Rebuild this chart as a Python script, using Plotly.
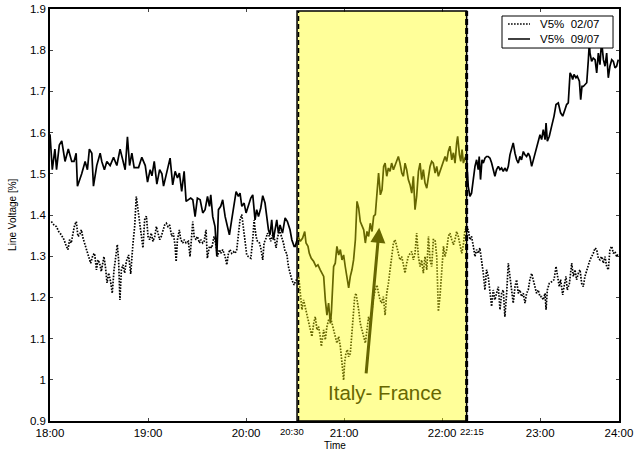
import plotly.graph_objects as go

# time in minutes after 18:00, values in %
t_sep = [0, 1.4, 3, 4, 5.7, 7.2, 9.2, 11.2, 13.3, 14.7, 16, 16.8, 19.4, 21.5, 22.9, 24.1, 25.6, 26.6, 28.6, 30.7,
         31.7, 33.3, 34.8, 36.8, 38.9, 40.9, 42.9, 44.6, 46, 47.4, 48.7, 50.1, 51.5, 54.2, 56.2, 58.3, 59.7, 61.3,
         62.4, 63.8, 65.4, 67.1, 68.5, 69.5, 71.6,
         73.5, 75.1, 76.6, 78.0, 79.2, 80.6, 82.1, 83.3, 84.7, 86.1, 87.4, 88.8, 90.2, 91.9, 93.5, 94.9, 96.4, 97.6,
         98.4, 99.6, 101.0, 102.1, 103.1, 104.5, 105.7, 107.2, 108.6, 109.8, 111.2, 112.7, 113.9, 115.3, 116.3,
         117.4, 118.8, 120.0, 121.4, 122.9, 124.1, 125.5, 126.5, 127.6, 129.0, 130.2, 131.6, 132.7, 133.7, 134.7,
         135.7, 136.7, 137.8, 138.8, 139.8, 140.8, 142.3, 143.9, 145.3, 146.9, 148.0, 149.4,
         150.1, 151.8, 153.2, 154.6, 155.9, 156.7, 157.9, 158.7, 159.9, 161.4, 162.8, 164, 165.4, 166.5, 167.5,
         168.5, 169.5, 170.5, 171.6, 172.2, 173, 173.6, 174.6, 175.6, 176.7, 177.7, 178.7, 179.7, 180.7, 181.8,
         182.8, 183.8, 184.8, 185.8, 186.9, 187.9, 188.9, 189.9, 190.9, 192, 193, 194, 195, 196, 197.1, 198.1,
         199.1, 200.1, 201.1, 202.2, 203.2, 204.2,
         205.1, 206.1, 207.1, 208.1, 209.1, 210.2, 211.2, 212.2, 213.2, 214.2, 215.3, 216.3, 217.3, 218.3, 219.3,
         220.4, 221.4, 222.4, 223.4, 224.4, 225.5, 226.5, 227.5, 228.5, 229.5, 230.6, 231.6, 232.6, 233.6, 234.6,
         235.7, 236.7, 237.7, 238.7, 239.7, 240.8, 241.8, 242.8, 243.8, 244.8, 245.9, 246.9, 247.9, 248.9, 249.5,
         250.6, 251.4, 252.2, 253, 254,
         255, 256, 257, 258, 259.1, 260.1, 261.1, 262.1, 262.7, 263.5, 264.4, 265.2, 266.2, 267.2, 268.2, 269.3,
         270.3, 271.3, 272.3, 273.3, 274.4, 275.4, 276.4, 277.4, 278.4, 279.5, 280.5, 281.5, 282.5, 283.5, 284.6,
         285.6, 286.6, 287.6, 288.6, 289.7, 290.7, 291.7, 292.7, 293.7, 294.8, 295.8, 296.8, 297.8, 298.8, 299.9,
         300.9, 301.9,
         303, 303.6, 304.4, 305.6, 307, 308.5, 309.7, 311.1, 312.5, 313.8, 315.2, 316.2, 317.2, 318.3, 319.3,
         319.9, 320.7, 321.9, 322.7, 324, 324.8, 325.6, 326.4, 327.4, 328.5, 329.5, 330.1, 330.5, 331.5, 332.5,
         333.6, 334.6, 335.6, 336.6, 337.6, 338.7, 339.7, 340.7, 341.7, 342.7, 343.8, 344.8, 345.8, 346.8, 347.8]
v_sep = [1.596, 1.51, 1.56, 1.51, 1.57, 1.58, 1.53, 1.56, 1.53, 1.53, 1.55, 1.47, 1.50, 1.53, 1.51, 1.56, 1.55, 1.47,
         1.52, 1.55, 1.53, 1.51, 1.53, 1.52, 1.54, 1.52, 1.56, 1.53, 1.51, 1.59, 1.52, 1.55, 1.515, 1.515, 1.54,
         1.52, 1.48, 1.51, 1.495, 1.53, 1.475, 1.51, 1.50, 1.47, 1.51,
         1.538, 1.473, 1.506, 1.49, 1.502, 1.457, 1.506, 1.433, 1.437, 1.441, 1.437, 1.396, 1.441, 1.437, 1.405,
         1.413, 1.445, 1.421, 1.449, 1.396, 1.372, 1.30, 1.413, 1.421, 1.437, 1.396, 1.372, 1.352, 1.388, 1.429,
         1.457, 1.445, 1.453, 1.421, 1.429, 1.405, 1.421, 1.441, 1.449, 1.388, 1.413, 1.396, 1.417, 1.447, 1.429,
         1.396, 1.364, 1.352, 1.388, 1.340, 1.372, 1.388, 1.356, 1.376, 1.356, 1.393, 1.384, 1.364, 1.340, 1.324,
         1.324, 1.348, 1.336, 1.344, 1.360, 1.332, 1.324, 1.307, 1.295, 1.287, 1.275, 1.279, 1.267, 1.259, 1.251,
         1.194, 1.157, 1.186, 1.137, 1.162, 1.218, 1.275, 1.283, 1.324, 1.303, 1.316, 1.291, 1.303, 1.275, 1.251,
         1.223, 1.251, 1.267, 1.291, 1.340, 1.433, 1.417, 1.384, 1.376, 1.364, 1.332, 1.360, 1.348, 1.380, 1.360,
         1.397, 1.401, 1.445, 1.502, 1.449, 1.461, 1.518,
         1.526, 1.494, 1.514, 1.506, 1.526, 1.510, 1.522, 1.530, 1.542, 1.526, 1.502, 1.494, 1.526, 1.510, 1.486,
         1.473, 1.453, 1.494, 1.413, 1.445, 1.506, 1.526, 1.486, 1.510, 1.478, 1.465, 1.494, 1.518, 1.530, 1.526,
         1.502, 1.518, 1.494, 1.506, 1.518, 1.534, 1.542, 1.530, 1.555, 1.567, 1.534, 1.551, 1.526, 1.575, 1.591,
         1.546, 1.530, 1.559, 1.526, 1.538,
         1.534, 1.469, 1.445, 1.453, 1.494, 1.518, 1.534, 1.510, 1.542, 1.486, 1.534, 1.526, 1.538, 1.542, 1.542,
         1.538, 1.526, 1.510, 1.494, 1.510, 1.518, 1.510, 1.514, 1.506, 1.514, 1.506, 1.518, 1.546, 1.559, 1.575,
         1.550, 1.534, 1.526, 1.542, 1.534, 1.554, 1.546, 1.542, 1.550, 1.542, 1.518, 1.534, 1.546, 1.567, 1.583,
         1.595, 1.583, 1.607,
         1.583, 1.623, 1.579, 1.591, 1.615, 1.640, 1.668, 1.672, 1.648, 1.640, 1.656, 1.668, 1.672, 1.745, 1.737,
         1.729, 1.741, 1.733, 1.737, 1.725, 1.680, 1.712, 1.712, 1.717, 1.721, 1.777, 1.818, 1.793, 1.773, 1.781,
         1.777, 1.745, 1.793, 1.765, 1.822, 1.777, 1.761, 1.793, 1.733, 1.761, 1.777, 1.773, 1.757, 1.761, 1.777]

t_jul = [0.8, 2.4, 3.9, 5.3, 6.9, 8.6, 10, 11, 12, 13, 14.1, 15.1, 16.1, 17.1, 18.2, 19.2, 20.2, 21.6, 22.9, 23.7,
         24.9, 26.3, 27.3, 28.4, 29.4, 30.4, 31.4, 33.0, 33.9, 34.9, 35.9, 37.1, 38.1, 39.2, 40.2, 41.2, 42.0,
         42.8, 43.7, 44.7, 45.7, 46.7, 48.1, 49.4, 50.8, 51.8, 52.8, 53.9, 54.9, 55.9, 56.9, 57.9, 59, 60, 61, 62,
         63, 64.1, 65.1, 66.1, 67.1, 68.1, 69.2, 70.2, 71.2, 72.2, 73.2,
         74.5, 75.5, 76.6, 77.2, 78, 79.2, 80, 81.3, 82.1, 83.3, 84.7, 85.7, 86.8, 87.4, 88.2, 89.4, 90.2, 91.5,
         92.3, 93.5, 94.3, 95.5, 96.3, 97.6, 99, 100.4, 101.7, 102.5, 103.7, 104.5, 105.7, 107.2, 108.2, 109.2,
         110.2, 111.2, 112.3, 113.3, 114.3, 115.3, 116.3, 117.4, 118.4, 119.4, 120.4, 121.4, 122.9, 124.1, 124.9,
         126.1, 127, 128.2, 129, 130.2, 131, 132.3, 133.1, 134.3, 135.1, 136.3, 137.1, 138.4, 139.2, 140.4, 141.8,
         142.9, 143.9, 144.9, 145.9, 147, 148, 149.4,
         150.1, 152.2, 153.2, 154.2, 155.2, 156.3, 157.3, 158.3, 159.3, 160.3, 161.4, 162.4, 163.4, 164.4, 165.4,
         166.1, 166.9, 167.5, 168.5, 169.5, 170.5, 171.6, 172.6, 173.6, 174.6, 175.6, 176.7, 177.7, 178.7, 179.7,
         180.3, 181.1, 182, 182.8, 183.8, 184.8, 185.8, 186.5, 187.3, 188.1, 188.9, 189.9, 190.9, 192, 193, 194,
         195, 196, 197.1, 198.1, 199.1, 200.1, 201.1,
         202, 203, 204, 205.1, 206.1, 207.1, 208.1, 209.1, 210.2, 211.2, 212.2, 213.2, 214.2, 215.3, 216.3, 217.3,
         218.3, 219.3, 220.4, 221.4, 222.4, 223.4, 224.4, 225.5, 226.5, 227.5, 228.5, 229.5, 230.6, 231.6, 232.6,
         233.6, 234.6, 235.7, 236.7, 237.7, 238.7, 239.7, 240.8, 241.8, 242.8, 243.8, 244.8, 245.9, 246.9, 247.9,
         248.9, 249.9, 251, 252, 253, 254, 255,
         256, 257, 258, 259.1, 260.1, 261.1, 262.1, 263.1, 264.2, 265.2, 266.2, 267.2, 268.2, 269.3, 270.3, 271.3,
         272.3, 273.3, 274.4, 275.4, 276.4, 277.4, 278.4, 279.5, 280.5, 281.5, 282.5, 283.5, 284.6, 285.6, 286.6,
         287.6, 288.6, 289.7, 290.7, 291.7, 292.7, 293.7, 294.8, 295.8, 296.8, 297.8, 298.8, 299.9,
         300.9, 301.9, 303, 303.6, 304.4, 305.6, 307, 308.5, 309.7, 310.5, 311.7, 312.5, 313.8, 314.6, 315.8,
         316.6, 317.9, 319.3, 320.3, 321.3, 322.3, 323.4, 324.4, 325.4, 326.4, 327.4, 328.5, 329.5, 330.5, 331.5,
         332.5, 333.6, 334.6, 335.6, 336.6, 337.6, 338.7, 339.7, 340.7, 341.7, 342.7, 343.8, 344.8, 345.8, 346.8,
         347.8]
v_jul = [1.384, 1.376, 1.372, 1.360, 1.352, 1.340, 1.324, 1.316, 1.340, 1.332, 1.356, 1.376, 1.384, 1.348, 1.352,
         1.364, 1.344, 1.324, 1.311, 1.299, 1.283, 1.303, 1.307, 1.267, 1.291, 1.283, 1.263, 1.299, 1.275, 1.235,
         1.259, 1.238, 1.210, 1.267, 1.299, 1.328, 1.291, 1.194, 1.267, 1.279, 1.259, 1.287, 1.303, 1.257, 1.332,
         1.372, 1.445, 1.413, 1.388, 1.356, 1.320, 1.388, 1.397, 1.348, 1.340, 1.356, 1.336, 1.348, 1.372, 1.356,
         1.340, 1.348, 1.360, 1.376, 1.380, 1.372, 1.376,
         1.348, 1.356, 1.324, 1.287, 1.340, 1.364, 1.340, 1.332, 1.340, 1.332, 1.336, 1.299, 1.372, 1.384, 1.348,
         1.340, 1.348, 1.332, 1.340, 1.332, 1.336, 1.364, 1.295, 1.324, 1.320, 1.348, 1.324, 1.299, 1.316, 1.307,
         1.316, 1.299, 1.279, 1.307, 1.316, 1.307, 1.311, 1.307, 1.316, 1.348, 1.388, 1.401, 1.372, 1.340, 1.303,
         1.299, 1.295, 1.340, 1.388, 1.348, 1.336, 1.332, 1.320, 1.291, 1.332, 1.344, 1.356, 1.348, 1.336, 1.352,
         1.348, 1.320, 1.344, 1.364, 1.348, 1.332, 1.311, 1.307, 1.275, 1.259, 1.243, 1.230,
         1.238, 1.251, 1.202, 1.170, 1.194, 1.174, 1.153, 1.137, 1.121, 1.105, 1.137, 1.153, 1.121, 1.129, 1.105,
         1.081, 1.105, 1.121, 1.097, 1.129, 1.145, 1.153, 1.137, 1.121, 1.105, 1.089, 1.105, 1.081, 1.040, 0.999,
         1.040, 1.064, 1.073, 1.056, 1.064, 1.121, 1.162, 1.202, 1.210, 1.194, 1.170, 1.137, 1.121, 1.105, 1.089,
         1.121, 1.153, 1.137, 1.170, 1.202, 1.218, 1.230, 1.210,
         1.194, 1.186, 1.202, 1.157, 1.210, 1.234, 1.267, 1.299, 1.332, 1.340, 1.324, 1.307, 1.291, 1.299, 1.275,
         1.259, 1.283, 1.299, 1.307, 1.311, 1.291, 1.307, 1.356, 1.299, 1.275, 1.291, 1.259, 1.299, 1.267, 1.348,
         1.291, 1.275, 1.340, 1.340, 1.299, 1.166, 1.202, 1.251, 1.324, 1.299, 1.316, 1.348, 1.356, 1.340, 1.328,
         1.340, 1.360, 1.348, 1.328, 1.307, 1.328, 1.364, 1.368,
         1.364, 1.340, 1.348, 1.324, 1.299, 1.316, 1.307, 1.320, 1.291, 1.258, 1.218, 1.267, 1.251, 1.210, 1.178,
         1.218, 1.194, 1.210, 1.226, 1.170, 1.210, 1.218, 1.153, 1.210, 1.283, 1.251, 1.218, 1.186, 1.226, 1.243,
         1.210, 1.218, 1.202, 1.210, 1.186, 1.210, 1.218, 1.243, 1.258, 1.243, 1.226, 1.210, 1.218, 1.202,
         1.202, 1.194, 1.210, 1.170, 1.218, 1.234, 1.238, 1.243, 1.275, 1.259, 1.226, 1.243, 1.206, 1.226, 1.251,
         1.218, 1.234, 1.283, 1.251, 1.267, 1.243, 1.259, 1.267, 1.234, 1.226, 1.251, 1.267, 1.283, 1.291, 1.299,
         1.307, 1.320, 1.316, 1.295, 1.291, 1.299, 1.283, 1.299, 1.275, 1.267, 1.316, 1.324, 1.307, 1.311, 1.299,
         1.307]

tick_pos = [0, 60, 120, 180, 240, 300, 348.2]
tick_txt = ["18:00", "19:00", "20:00", "21:00", "22:00", "23:00", "24:00"]
y_ticks = [0.9, 1.0, 1.1, 1.2, 1.3, 1.4, 1.5, 1.6, 1.7, 1.8, 1.9]
y_txt = ["0.9", "1", "1.1", "1.2", "1.3", "1.4", "1.5", "1.6", "1.7", "1.8", "1.9"]
event_start, event_end = 151.2, 255.0
event_label = "Italy- France"
series_names = ["V5%\u00a0 02/07", "V5%\u00a0 09/07"]

FONT = "Arial, Liberation Sans, sans-serif"
DOT = "1.6px,1.4px"
fig = go.Figure()
fig.add_trace(go.Scatter(x=t_jul, y=v_jul, mode="lines", name=series_names[0], showlegend=False,
                         line=dict(color="black", width=1.7, dash=DOT)))
fig.add_trace(go.Scatter(x=t_sep, y=v_sep, mode="lines", name=series_names[1], showlegend=False,
                         line=dict(color="black", width=1.7)))

# highlighted window
fig.add_shape(type="rect", x0=event_start, x1=event_end, y0=0.9, y1=1.895, xref="x", yref="y",
              fillcolor="rgba(255,255,0,0.4)", line=dict(color="black", width=1.5), layer="above")
fig.add_shape(type="line", x0=event_start + 0.9, x1=event_start + 0.9, y0=0.9, y1=1.895,
              line=dict(color="black", width=1.5, dash="5px,3px"), layer="above")
fig.add_shape(type="line", x0=event_end, x1=event_end, y0=0.9, y1=1.895,
              line=dict(color="black", width=3, dash="6px,3px"), layer="above")

fig.add_annotation(x=201.5, y=1.369, ax=193.4, ay=1.012, xref="x", yref="y", axref="x", ayref="y",
                   text="", showarrow=True, arrowhead=2, arrowsize=1, arrowwidth=3, arrowcolor="#666600")
fig.add_annotation(x=205, y=0.97, xref="x", yref="y", text=event_label, showarrow=False,
                   xanchor="center", yanchor="middle",
                   font=dict(family=FONT, size=20.5, color="#666600"))
for xv, lab in [(148.1, "20:30"), (258.3, "22:15")]:
    fig.add_annotation(x=xv, y=0, xref="x", yref="paper", xanchor="center", yanchor="top", yshift=-3,
                       text=lab, showarrow=False, font=dict(family=FONT, size=9.5, color="black"))
# axis titles
fig.add_annotation(x=0.5, y=-0.06, xref="paper", yref="paper", text="Time", showarrow=False,
                   xanchor="center", yanchor="middle", font=dict(family=FONT, size=10, color="black"))
fig.add_annotation(x=-0.067, y=0.5, xref="paper", yref="paper", text="Line Voltage [%]", textangle=-90,
                   xanchor="center", yanchor="middle", showarrow=False,
                   font=dict(family=FONT, size=10, color="black"))

# legend box (drawn in paper coordinates)
fig.add_shape(type="rect", xref="paper", yref="paper", x0=0.7944, x1=0.9895, y0=0.9053, y1=0.983,
              fillcolor="white", line=dict(color="black", width=1), layer="above")
for yy, dash, name in [(0.9636, DOT, series_names[0]), (0.9272, "solid", series_names[1])]:
    fig.add_shape(type="line", xref="paper", yref="paper", x0=0.805, x1=0.8436, y0=yy, y1=yy,
                  line=dict(color="black", width=1.5, dash=dash), layer="above")
    fig.add_annotation(x=0.8576, y=yy, xref="paper", yref="paper", xanchor="left", yanchor="middle",
                       text=name, showarrow=False, font=dict(family=FONT, size=11.5, color="black"))

fig.update_layout(
    width=634, height=451, margin=dict(l=50, r=15, t=9, b=30),
    paper_bgcolor="white", plot_bgcolor="white",
    font=dict(family=FONT, size=11, color="black"),
    showlegend=False,
    xaxis=dict(range=[0, 348.25], tickvals=tick_pos, ticktext=tick_txt, ticks="inside", ticklen=3,
               showline=True, linecolor="black", linewidth=1.5, mirror="ticks", showgrid=False,
               zeroline=False, automargin=False, tickfont=dict(size=11.5)),
    yaxis=dict(range=[0.9, 1.9], tickvals=y_ticks, ticktext=y_txt, ticks="inside", ticklen=3,
               showline=True, linecolor="black", linewidth=1.5, mirror="ticks", showgrid=False,
               zeroline=False, automargin=False, tickfont=dict(size=11.5)),
)
fig.write_html("out.html", config={"displayModeBar": False},
               post_script="document.body.style.margin='0';")
